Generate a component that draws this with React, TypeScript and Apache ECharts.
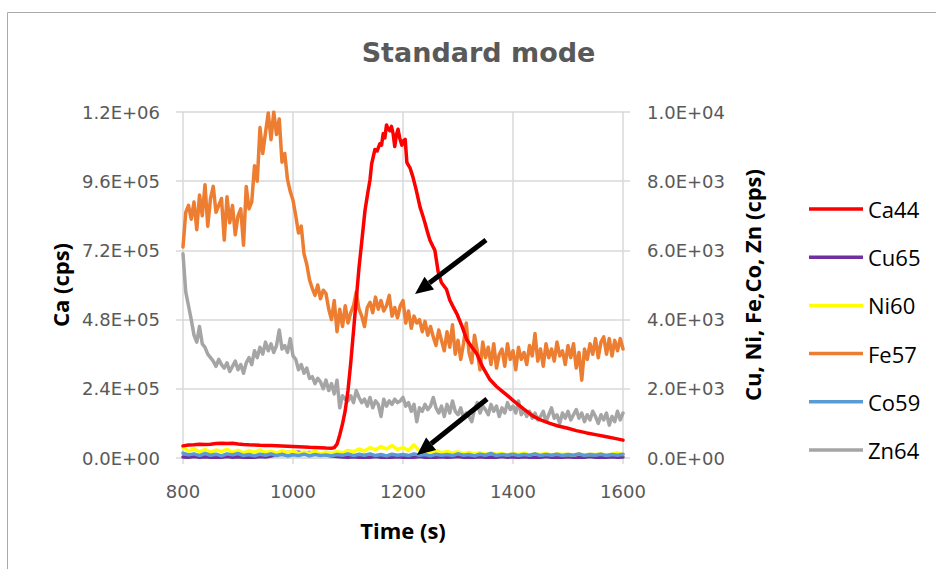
import React, { useEffect, useRef } from "react";
import * as echarts from "echarts";

// ---------- data ----------
const legendNames = ["Ca44", "Cu65", "Ni60", "Fe57", "Co59", "Zn64"];

// Ca44 (left axis), irregular sampling
const caTime = [
  800, 810, 820, 830, 840, 850, 860, 870, 880, 890, 900, 910, 920, 930, 940, 950, 960, 970, 980, 990,
  1000, 1010, 1020, 1030, 1040, 1050, 1060, 1070, 1075, 1080, 1085, 1090, 1095, 1100, 1105, 1110, 1115,
  1120, 1125, 1131, 1136, 1140, 1143, 1149, 1153, 1158, 1161, 1164, 1167, 1170, 1173, 1176, 1179, 1182,
  1185, 1188, 1191, 1194, 1198, 1201, 1204, 1207, 1210, 1213, 1218, 1224, 1231, 1236, 1240, 1245, 1249,
  1254, 1258, 1264, 1270, 1279, 1285, 1291, 1298, 1307, 1316, 1325, 1334, 1345, 1358, 1370, 1380, 1389,
  1400, 1418, 1436, 1450, 1467, 1482, 1498, 1515, 1534, 1550, 1570, 1585, 1600,
];
const ca44 = [
  42000, 45000, 46000, 47500, 46500, 48000, 50000, 51500, 50000, 51000, 48500, 47000, 46000, 45500, 44000,
  43500, 43000, 42500, 42000, 41000, 40000, 39000, 38000, 37000, 36500, 35500, 34500, 34000, 36000, 48000,
  80000, 118000, 165000, 235000, 330000, 440000, 550000, 660000, 750000, 860000, 920000, 965000, 1020000,
  1070000, 1065000, 1090000, 1085000, 1125000, 1110000, 1155000, 1140000, 1135000, 1150000, 1125000,
  1080000, 1120000, 1140000, 1110000, 1085000, 1100000, 1105000, 1025000, 1015000, 1005000, 975000, 930000,
  870000, 840000, 815000, 780000, 755000, 735000, 720000, 645000, 608000, 585000, 548000, 525000, 500000,
  458000, 410000, 385000, 362000, 315000, 272000, 248000, 232000, 218000, 200000, 172000, 146000, 132000,
  120000, 111000, 104000, 95000, 87000, 81000, 74000, 68000, 62000,
];

// 5 s sampling, 800..1600
const t5 = Array.from({ length: 161 }, (_, i) => 800 + 5 * i);
const fe57 = [
  6100, 7100, 7300, 6900, 7400, 6600, 7600, 7000, 7900, 6700, 7500, 7850, 7100, 7300, 7500, 6300, 7550, 6800, 7300, 6450,
  7000, 7200, 6150, 7850, 7200, 7400, 8450, 8000, 9550, 8800, 9400, 9970, 9200, 10000, 9350, 9800, 8550, 8800, 8050, 7700,
  7450, 7000, 6500, 6700, 5900, 5600, 5150, 4900, 4700, 5000, 4600, 4850, 4750, 4300, 4000, 4550, 3650, 4300, 3800, 4400,
  3900, 4200, 4400, 4800, 4300, 4100, 3800, 4350, 4500, 4200, 4650, 4300, 4550, 4250, 4400, 4700, 4100, 4350, 4050, 4400,
  4550, 3900, 4250, 3750, 4100, 3900, 4000, 3650, 3950, 3550, 3800, 3500, 3250, 3700, 3400, 3100, 3650, 3200, 3850, 3000,
  3400, 2850, 3300, 3900, 3050, 2750, 3550, 3100, 2550, 3350, 2900, 3200, 2700, 3300, 2600, 3000, 3150, 2650, 3300, 2850,
  3100, 2550, 3200, 2850, 3050, 2700, 3250, 2950, 3600, 2800, 3150, 2650, 3300, 2900, 3150, 2800, 3350, 2950, 3100, 2700,
  3250, 2900, 3300, 2600, 3050, 2250, 3150, 2850, 3300, 3000, 3450, 2900, 3350, 3500, 3000, 3450, 2950, 3400, 3100, 3450,
  3150,
];
const zn64 = [
  5900, 4800, 4400, 4000, 3550, 3350, 3800, 3300, 3200, 3000, 2900, 2800, 2650, 2850, 2700, 2600, 2750, 2500, 2650, 2800,
  2550, 2700, 2450, 2750, 2900, 2700, 3100, 2900, 3200, 3000, 3350, 3100, 3300, 3050, 3250, 3700, 3150, 3250, 3050, 3450,
  2950, 2850, 2550, 2700, 2450, 2600, 2300, 2350, 2150, 2300, 2200, 2000, 2250, 1950, 2150, 1850, 2250, 1450, 1800, 1700,
  1650, 1800, 1600, 1950, 1750, 1600, 1700, 1500, 1750, 1450, 1650, 1550, 1200, 1700, 1500, 1650, 1550, 1700, 1600, 1650,
  1750, 1500, 1600, 1350, 1550, 1050, 1450, 1350, 1550, 1400, 1500, 1750, 1450, 1300, 1500, 1200, 1550, 1300, 1650, 1350,
  1250, 1450, 1150, 1300, 1200, 1050, 1400, 1600, 1300, 1500, 1400, 1250, 1550, 1350, 1500, 1200, 1450, 1300, 1600, 1400,
  1500, 1300, 1650, 1250, 1400, 1200, 1350, 1150, 1300, 1100, 1200, 1350, 1050, 1250, 1450, 1150, 1250, 1000, 1300, 1150,
  1350, 1100, 1250, 1400, 1150, 1300, 1050, 1250, 1100, 1350, 1200, 1000, 1250, 1100, 1300, 950, 1200, 1050, 1350, 1100,
  1300,
];

// 10 s sampling, 800..1600
const t10 = Array.from({ length: 81 }, (_, i) => 800 + 10 * i);
const ni60 = [
  300, 200, 260, 180, 240, 170, 230, 190, 250, 160, 220, 150, 210, 170, 230, 160, 200, 140, 210, 150,
  190, 130, 170, 140, 190, 120, 170, 130, 180, 150, 220, 180, 260, 200, 300, 240, 330, 260, 360, 250,
  300, 220, 380, 200, 250, 170, 210, 150, 190, 140, 180, 120, 160, 110, 150, 100, 140, 110, 130, 90,
  130, 100, 140, 90, 120, 100, 130, 90, 120, 100, 110, 80, 120, 90, 110, 100, 120, 90, 110, 150,
  100,
];
const co59 = [
  140, 90, 120, 70, 130, 80, 110, 60, 120, 90, 130, 70, 100, 60, 110, 80, 120, 70, 100, 60,
  90, 70, 110, 60, 100, 70, 90, 60, 100, 80, 120, 70, 110, 80, 120, 70, 100, 60, 110, 80,
  100, 70, 120, 80, 100, 60, 110, 80, 100, 70, 120, 80, 100, 60, 110, 80, 130, 70, 100, 80,
  110, 70, 100, 80, 120, 70, 100, 80, 110, 70, 100, 80, 120, 70, 100, 80, 110, 70, 100, 80,
  110,
];
const cu65 = [
  30, 20, 40, 25, 35, 20, 30, 25, 40, 20, 35, 25, 30, 20, 40, 30, 60, 90, 130, 160,
  150, 170, 140, 160, 130, 120, 90, 60, 40, 30, 25, 35, 20, 30, 25, 40, 20, 30, 25, 35,
  20, 30, 25, 40, 20, 30, 25, 35, 20, 30, 40, 25, 30, 20, 35, 25, 30, 20, 40, 25,
  30, 20, 35, 25, 30, 20, 40, 25, 30, 20, 35, 25, 30, 20, 40, 25, 30, 20, 35, 25,
  30,
];

const colors: Record<string, string> = {
  Ca44: "#ff0000",
  Cu65: "#7030a0",
  Ni60: "#ffff00",
  Fe57: "#ed7d31",
  Co59: "#5b9bd5",
  Zn64: "#a5a5a5",
};

// ---------- helpers ----------
function sci(v: number): string {
  if (v === 0) return "0.0E+00";
  const parts = v.toExponential(1).split("e");
  const n = parseInt(parts[1], 10);
  return parts[0] + "E" + (n < 0 ? "-" : "+") + String(Math.abs(n)).padStart(2, "0");
}
const zip = (ts: number[], vs: number[]) => ts.map((t, i) => [t, vs[i]]);

function lineSeries(name: string, ts: number[], vs: number[], yAxisIndex: number) {
  return {
    name,
    type: "line",
    yAxisIndex,
    data: zip(ts, vs),
    symbol: "none",
    showSymbol: false,
    lineStyle: { color: colors[name], width: 3.5, cap: "round", join: "round" },
    itemStyle: { color: colors[name] },
  };
}

const GRID = "#d9d9d9";
const TICK_FONT = { fontFamily: "DejaVu Sans", fontSize: 18, color: "#595959" };
const NAME_FONT = { fontFamily: "Open Sans", fontWeight: "bold", fontSize: 22, color: "#000000" };

export default function App() {
  const ref = useRef<HTMLDivElement>(null);
  useEffect(() => {
    if (!ref.current) return;
    const chart = echarts.init(ref.current, undefined, { renderer: "svg" });
    chart.setOption({
      animation: false,
      backgroundColor: "#ffffff",
      grid: { left: 183, top: 112, width: 440, height: 346, containLabel: false },
      legend: {
        data: legendNames,
        orient: "vertical",
        left: 809,
        top: 197,
        padding: 0,
        itemWidth: 54,
        itemHeight: 3.5,
        itemGap: 24.2,
        icon: "rect",
        selectedMode: false,
        textStyle: { fontFamily: "Open Sans", fontSize: 22, color: "#000000", lineHeight: 24 },
      },
      xAxis: {
        type: "value",
        min: 800,
        max: 1600,
        interval: 200,
        name: "Time (s)",
        nameLocation: "middle",
        nameGap: 61,
        nameTextStyle: NAME_FONT,
        axisLine: { show: true, lineStyle: { color: GRID, width: 1.5 } },
        axisTick: { show: true, length: 6, lineStyle: { color: GRID, width: 1.5 } },
        axisLabel: { margin: 24, formatter: (v: number) => String(v), ...TICK_FONT },
        splitLine: { show: true, lineStyle: { color: GRID, width: 1.5 } },
      },
      yAxis: [
        {
          type: "value",
          position: "left",
          min: 0,
          max: 1200000,
          interval: 240000,
          name: "Ca (cps)",
          nameLocation: "middle",
          nameRotate: 90,
          nameGap: 112,
          nameTextStyle: NAME_FONT,
          axisLine: { show: false },
          axisTick: { show: true, length: 7, lineStyle: { color: GRID, width: 1.5 } },
          axisLabel: { margin: 23, formatter: sci, ...TICK_FONT },
          splitLine: { show: true, lineStyle: { color: GRID, width: 1.5 } },
        },
        {
          type: "value",
          position: "right",
          min: 0,
          max: 10000,
          interval: 2000,
          name: "Cu, Ni, Fe,Co, Zn (cps)",
          nameLocation: "middle",
          nameRotate: 90,
          nameGap: 118,
          nameTextStyle: NAME_FONT,
          axisLine: { show: false },
          axisTick: { show: true, length: 7, lineStyle: { color: GRID, width: 1.5 } },
          axisLabel: { margin: 24, formatter: sci, ...TICK_FONT },
          splitLine: { show: false },
        },
      ],
      series: [
        lineSeries("Zn64", t5, zn64, 1),
        lineSeries("Fe57", t5, fe57, 1),
        lineSeries("Cu65", t10, cu65, 1),
        lineSeries("Ni60", t10, ni60, 1),
        lineSeries("Co59", t10, co59, 1),
        lineSeries("Ca44", caTime, ca44, 0),
      ],
      graphic: [
        {
          type: "rect",
          z: -10,
          silent: true,
          shape: { x: 7.5, y: 12.5, width: 1000, height: 1000 },
          style: { fill: "none", stroke: "#aaaaaa", lineWidth: 1 },
        },
        {
          type: "text",
          x: 478.5,
          y: 52,
          z: 100,
          style: {
            text: "Standard mode",
            fontFamily: "DejaVu Sans",
            fontWeight: "bold",
            fontSize: 27,
            fill: "#595959",
            align: "center",
            verticalAlign: "middle",
          },
        },
        {
          type: "line",
          z: 100,
          shape: { x1: 486, y1: 240, x2: 429.3, y2: 283.1 },
          style: { stroke: "#000000", lineWidth: 5 },
        },
        {
          type: "polygon",
          z: 100,
          shape: { points: [[415, 294], [434.1, 289.5], [424.5, 276.7]] },
          style: { fill: "#000000" },
        },
        {
          type: "line",
          z: 100,
          shape: { x1: 487, y1: 399, x2: 431.1, y2: 443.75 },
          style: { stroke: "#000000", lineWidth: 5 },
        },
        {
          type: "polygon",
          z: 100,
          shape: { points: [[417, 455], [436.1, 450.0], [426.1, 437.5]] },
          style: { fill: "#000000" },
        },
      ],
    });
    return () => chart.dispose();
  }, []);
  return (
    <div
      ref={ref}
      style={{ position: "fixed", left: 0, top: 0, width: 936, height: 569, background: "#ffffff" }}
    />
  );
}
